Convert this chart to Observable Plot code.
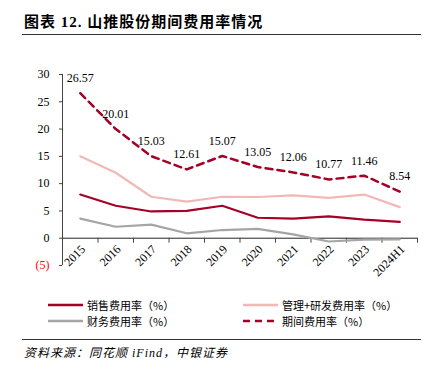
<!DOCTYPE html>
<html><head><meta charset="utf-8">
<script src="https://cdn.jsdelivr.net/npm/d3@7"></script>
<script src="https://cdn.jsdelivr.net/npm/@observablehq/plot@0.6"></script>
<style>
body{margin:0;width:441px;height:377px;background:#fff;position:relative;overflow:hidden;font-family:"Liberation Serif","Noto Sans CJK SC",serif;}
#title{position:absolute;left:24px;top:10px;font-size:15px;font-weight:bold;letter-spacing:1px;color:#000;font-family:"Liberation Serif","Noto Sans CJK SC",serif;white-space:nowrap;}
.hr{position:absolute;left:22px;width:399px;height:0;border-top:1.3px solid #333;}
#chart{position:absolute;left:0;top:40px;}
.leg{position:absolute;font-size:11px;color:#000;white-space:nowrap;display:flex;align-items:center;font-family:"Noto Sans CJK SC",sans-serif;}
.leg svg{margin-right:4px;}
#src{position:absolute;left:24px;top:343px;font-size:12px;font-style:italic;letter-spacing:1px;color:#000;white-space:nowrap;font-family:"Liberation Serif","Noto Sans CJK SC",serif;}
</style></head>
<body>
<div id="title">图表 12. 山推股份期间费用率情况</div>
<div class="hr" style="top:34px"></div>
<div id="chart"></div>
<div class="leg" style="left:48px;top:297px"><svg width="35" height="6"><line x1="0" y1="3" x2="35" y2="3" stroke="#A50026" stroke-width="2.5"/></svg>销售费用率（%）</div>
<div class="leg" style="left:243px;top:297px"><svg width="35" height="6"><line x1="0" y1="3" x2="35" y2="3" stroke="#F2B8B8" stroke-width="2.5"/></svg>管理+研发费用率（%）</div>
<div class="leg" style="left:48px;top:313px"><svg width="35" height="6"><line x1="0" y1="3" x2="35" y2="3" stroke="#A5A5A5" stroke-width="2.5"/></svg>财务费用率（%）</div>
<div class="leg" style="left:243px;top:313px"><svg width="35" height="6"><line x1="0" y1="3" x2="35" y2="3" stroke="#A50026" stroke-width="2.5" stroke-dasharray="7,5"/></svg>期间费用率（%）</div>
<div class="hr" style="top:339px"></div>
<div id="src">资料来源：同花顺 iFind，中银证券</div>
<script>
const categories = ["2015","2016","2017","2018","2019","2020","2021","2022","2023","2024H1"];
const salesRate = [8.0,5.95,4.9,5.0,5.95,3.75,3.6,4.0,3.4,3.0];
const mgmtRdRate = [15.0,12.0,7.6,6.7,7.6,7.55,7.86,7.4,8.0,5.7];
const financeRate = [3.6,2.1,2.5,0.9,1.5,1.7,0.7,-0.6,-0.25,-0.2];
const periodRate = [26.57,20.01,15.03,12.61,15.07,13.05,12.06,10.77,11.46,8.54];
const yTicks = [-5,0,5,10,15,20,25,30];

const idx = categories.map((_, i) => i);
const bounds = d3.range(categories.length + 1).map(i => i - 0.5);
const red = "#A50026", pink = "#F2B8B8", gray = "#A5A5A5";

const chart = Plot.plot({
  width: 441, height: 255,
  marginLeft: 62, marginRight: 24, marginTop: 34, marginBottom: 30,
  style: {fontFamily: "Liberation Serif, serif", fontSize: "12px", color: "#000", background: "transparent"},
  x: {type: "linear", domain: [-0.5, categories.length - 0.5], axis: null},
  y: {type: "linear", domain: [-5, 30], axis: null},
  marks: [
    Plot.axisY({ticks: yTicks, tickSize: 3, tickPadding: 10, tickFormat: d => d < 0 ? `(${-d})` : d, fontSize: 12, stroke: "#444"}),
    Plot.ruleX([-0.5], {y1: -5, y2: 30, stroke: "#444"}),
    Plot.ruleY([0], {stroke: "#222"}),
    Plot.ruleX(bounds, {x: d => d, y1: 0, y2: 0, insetBottom: -5, stroke: "#444"}),
    Plot.lineY(mgmtRdRate, {x: idx, y: d => d, stroke: pink, strokeWidth: 2.2}),
    Plot.lineY(salesRate, {x: idx, y: d => d, stroke: red, strokeWidth: 2.2}),
    Plot.lineY(financeRate, {x: idx, y: d => d, stroke: gray, strokeWidth: 2.2}),
    Plot.lineY(periodRate, {x: idx, y: d => d, stroke: red, strokeWidth: 2.5, strokeDasharray: "7,5"}),
    Plot.text(periodRate, {x: idx, y: d => d, text: d => d.toFixed(2), dy: -15, fontSize: 12, fill: "#000"}),
    Plot.text(categories, {x: (d, i) => i, y: 0, text: d => d, rotate: -45, textAnchor: "end", dx: 3, dy: 9, fontSize: 12, fill: "#000"})
  ]
});
document.getElementById("chart").appendChild(chart);
d3.select(chart).selectAll("text").filter(function(){ return this.textContent === "(5)"; }).attr("fill", "#FF0000");
</script>
</body></html>
